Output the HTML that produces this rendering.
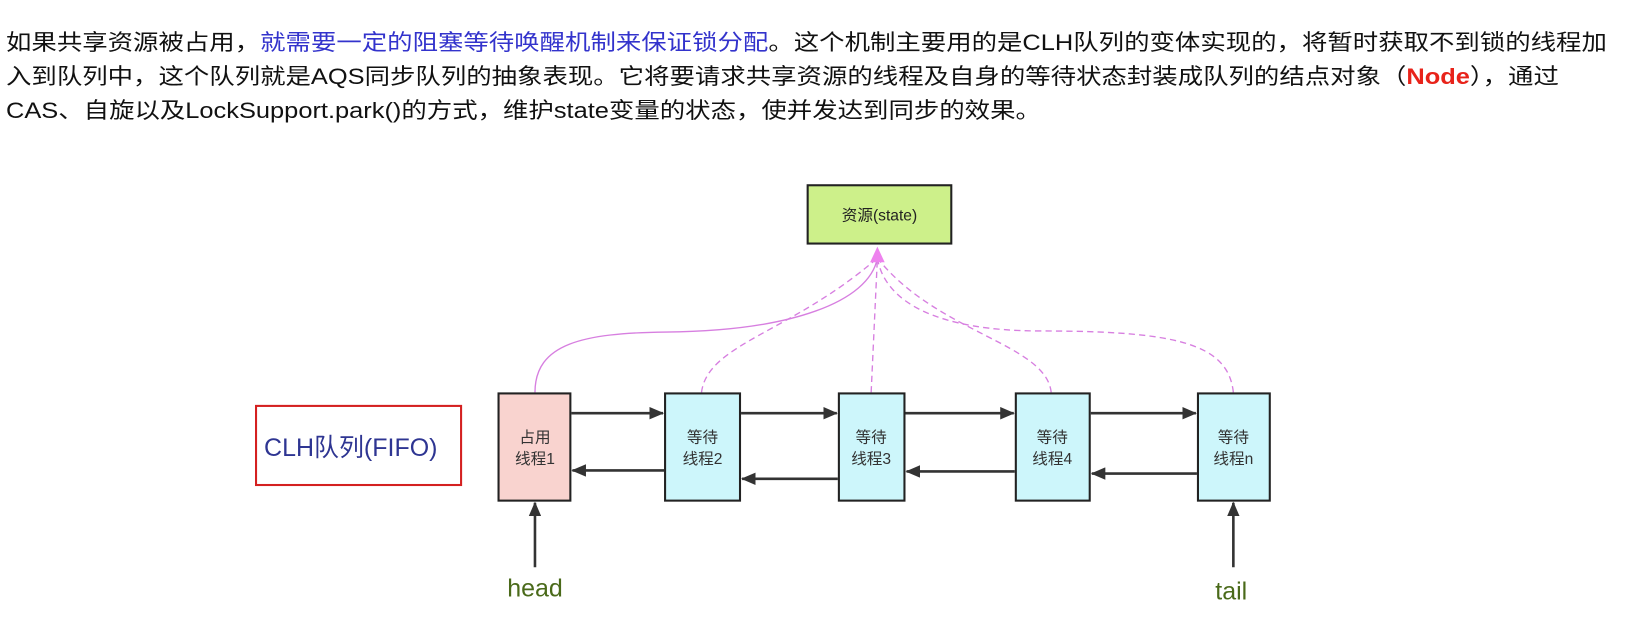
<!DOCTYPE html>
<html><head><meta charset="utf-8"><style>
body{margin:0;background:#fff;width:1632px;height:638px;overflow:hidden;position:relative;font-family:"Liberation Sans","Noto Sans CJK SC",sans-serif;}
.t{position:absolute;left:6px;top:26px;font-size:22px;line-height:34px;color:#111;white-space:nowrap;transform:scaleX(1.155);transform-origin:0 0;}
.b{color:#3333cc}.r{color:#e8231a;font-weight:bold}
svg{position:absolute;left:0;top:0}
</style></head><body>
<div class="t">如果共享资源被占用，<span class="b">就需要一定的阻塞等待唤醒机制来保证锁分配</span>。这个机制主要用的是CLH队列的变体实现的，将暂时获取不到锁的线程加<br>入到队列中，这个队列就是AQS同步队列的抽象表现。它将要请求共享资源的线程及自身的等待状态封装成队列的结点对象（<span class="r">Node</span>），通过<br>CAS、自旋以及LockSupport.park()的方式，维护state变量的状态，使并发达到同步的效果。</div>
<svg width="1632" height="638" font-family="Liberation Sans,Noto Sans CJK SC,sans-serif">
<defs><marker id="a" markerWidth="14" markerHeight="12" refX="13" refY="6" orient="auto" markerUnits="userSpaceOnUse"><path d="M0,0L14,6L0,12z" fill="#333"/></marker></defs>
<g transform="scale(1.0408)">
<rect x="776" y="178" width="138" height="56" fill="#cdf08a" stroke="#222" stroke-width="2"/>
<text x="845" y="212" font-size="15" text-anchor="middle" fill="#222">资源(state)</text>
<g fill="none" stroke="#d77fe0" stroke-width="1.3">
<path d="M514,377 C514,330 560,320 640,319 C760,318 835,290 843,248"/>
<path d="M674,377 C680,330 760,320 843,248" stroke-dasharray="6,4"/>
<path d="M837,377 L843,248" stroke-dasharray="6,4"/>
<path d="M1010,377 C1005,330 900,320 843,248" stroke-dasharray="6,4"/>
<path d="M1185,377 C1180,330 1130,318 1000,318 C900,318 850,290 843,248" stroke-dasharray="6,4"/>
</g>
<path d="M836,252 L843,237 L850,252z" fill="#ee82ee"/>
<rect x="479" y="378" width="69" height="103" fill="#f9d3cf" stroke="#222" stroke-width="2"/>
<rect x="639" y="378" width="72" height="103" fill="#cdf6fb" stroke="#222" stroke-width="2"/>
<rect x="806" y="378" width="63" height="103" fill="#cdf6fb" stroke="#222" stroke-width="2"/>
<rect x="976" y="378" width="71" height="103" fill="#cdf6fb" stroke="#222" stroke-width="2"/>
<rect x="1151" y="378" width="69" height="103" fill="#cdf6fb" stroke="#222" stroke-width="2"/>
<g font-size="15" text-anchor="middle" fill="#333">
<text x="514" y="425">占用</text><text x="514" y="446">线程1</text>
<text x="675" y="425">等待</text><text x="675" y="446">线程2</text>
<text x="837" y="425">等待</text><text x="837" y="446">线程3</text>
<text x="1011" y="425">等待</text><text x="1011" y="446">线程4</text>
<text x="1185" y="425">等待</text><text x="1185" y="446">线程n</text>
</g>
<g stroke="#333" stroke-width="2.5" marker-end="url(#a)">
<line x1="549" y1="397" x2="637" y2="397"/>
<line x1="712" y1="397" x2="804" y2="397"/>
<line x1="870" y1="397" x2="974" y2="397"/>
<line x1="1048" y1="397" x2="1149" y2="397"/>
<line x1="638" y1="452" x2="550" y2="452"/>
<line x1="805" y1="460" x2="713" y2="460"/>
<line x1="975" y1="453" x2="871" y2="453"/>
<line x1="1150" y1="455" x2="1049" y2="455"/>
<line x1="514" y1="545" x2="514" y2="483"/>
<line x1="1185" y1="545" x2="1185" y2="483"/>
</g>
<rect x="246" y="390" width="197" height="76" fill="#fff" stroke="#d42020" stroke-width="2"/>
<text x="337" y="438" font-size="24" text-anchor="middle" fill="#2e3592">CLH队列(FIFO)</text>
<text x="514" y="573" font-size="24" text-anchor="middle" fill="#4a6a1a">head</text>
<text x="1183" y="576" font-size="24" text-anchor="middle" fill="#4a6a1a">tail</text>
</g>
</svg>
</body></html>
